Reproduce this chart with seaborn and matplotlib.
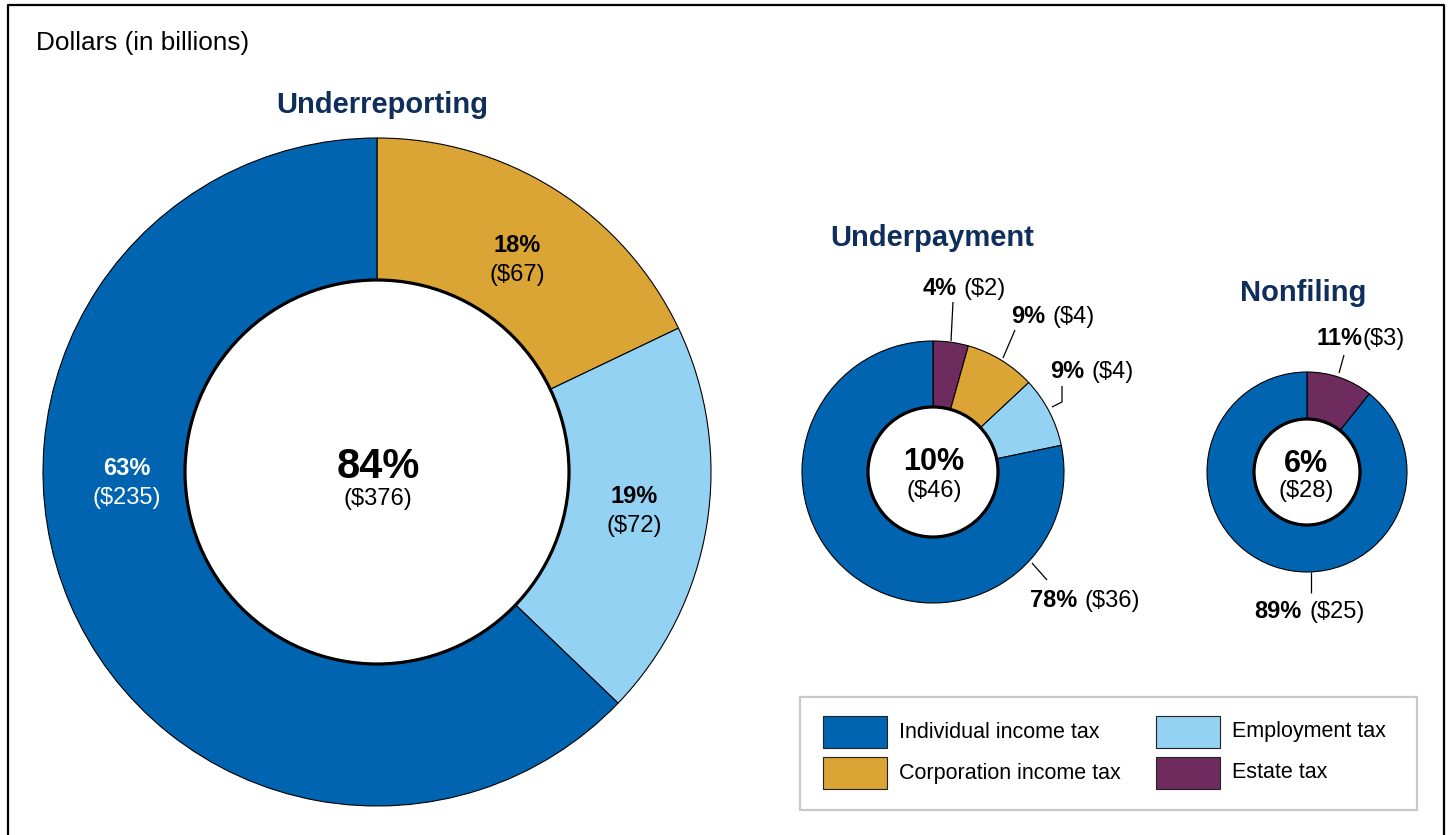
import matplotlib
matplotlib.use("Agg")
import matplotlib.pyplot as plt
from matplotlib.patches import Circle, Rectangle
import seaborn as sns

sns.set_theme(style="white")
plt.rcParams["font.family"] = ["Liberation Sans", "DejaVu Sans"]

# ---------------- data ----------------
tax_types = ["Individual income tax", "Corporation income tax", "Employment tax", "Estate tax"]
tax_colors = dict(zip(tax_types, sns.color_palette(["#0064b1", "#daa535", "#94d2f3", "#6e2c5e"])))

gap_names = ["Underreporting", "Underpayment", "Nonfiling"]
gap_share = [84, 10, 6]        # % of gross tax gap
gap_total = [376, 46, 28]      # dollars in billions

rep_types = ["Corporation income tax", "Employment tax", "Individual income tax"]
rep_dollars = [67, 72, 235]
rep_share = [18, 19, 63]

pay_types = ["Estate tax", "Corporation income tax", "Employment tax", "Individual income tax"]
pay_dollars = [2, 4, 4, 36]
pay_share = [4, 9, 9, 78]

nf_types = ["Estate tax", "Individual income tax"]
nf_dollars = [3, 25]
nf_share = [11, 89]

# ---------------- layout (pixel coords, y measured from top) ----------------
W, H = 1450, 835
NAVY = "#102e5c"


def Y(y):
    return H - y


donuts = [
    dict(types=rep_types, vals=rep_dollars, pct=rep_share, c=(377, 472), ro=334, ri=192,
         title=(382, 113), ctr=(378, 478, 505), csize=30),
    dict(types=pay_types, vals=pay_dollars, pct=pay_share, c=(933, 472), ro=131, ri=65,
         title=(932, 246), ctr=(934, 470, 497), csize=22),
    dict(types=nf_types, vals=nf_dollars, pct=nf_share, c=(1307, 472), ro=100, ri=53,
         title=(1303, 301), ctr=(1306, 472, 497), csize=22),
]

# two-line labels inside the big ring: x, pct baseline, amount baseline, colour
rep_label_pos = [(517, 252, 281, "black"), (634, 503, 532, "black"), (127, 475, 504, "white")]

# inline labels for the small rings: pct right edge, amount left edge, baseline, leader line
pay_label_pos = [
    (957, 964, 295, [(953, 302), (951, 341)]),
    (1045, 1053, 323, [(1015, 330), (1003, 358)]),
    (1084, 1092, 378, [(1062, 386), (1062, 402), (1052, 407)]),
    (1077, 1085, 607, [(1032, 563), (1047, 580)]),
]
nf_label_pos = [
    (1363, 1363, 345, [(1344, 355), (1339, 373)]),
    (1302, 1310, 618, [(1311, 572), (1311, 593)]),
]

fig = plt.figure(figsize=(W / 100, H / 100), dpi=100)
ax = fig.add_axes([0, 0, 1, 1])

for i, d in enumerate(donuts):
    cx, cy = d["c"]
    ax.pie(d["vals"], colors=[tax_colors[t] for t in d["types"]], startangle=90,
           counterclock=False, radius=d["ro"], center=(cx, Y(cy)),
           wedgeprops=dict(width=d["ro"] - d["ri"], edgecolor="black", linewidth=0.8))
    ax.add_patch(Circle((cx, Y(cy)), d["ri"], fill=False, edgecolor="black", linewidth=2.3, zorder=5))

    tx, tb = d["title"]
    ax.text(tx, Y(tb), gap_names[i], ha="center", va="baseline", fontsize=21,
            fontweight="bold", color=NAVY)

    x0, b1, b2 = d["ctr"]
    ax.text(x0, Y(b1), f"{gap_share[i]}%", ha="center", va="baseline",
            fontsize=d["csize"], fontweight="bold", color="black")
    ax.text(x0, Y(b2), f"(${gap_total[i]})", ha="center", va="baseline",
            fontsize=17, color="black")

# big ring labels
for (x, b1, b2, col), p, v in zip(rep_label_pos, rep_share, rep_dollars):
    ax.text(x, Y(b1), f"{p}%", ha="center", va="baseline", fontsize=17,
            fontweight="bold", color=col)
    ax.text(x, Y(b2), f"(${v})", ha="center", va="baseline", fontsize=17, color=col)

# small ring labels with leader lines
for pos, shares, vals in [(pay_label_pos, pay_share, pay_dollars), (nf_label_pos, nf_share, nf_dollars)]:
    for (xr, xl, b, leader), p, v in zip(pos, shares, vals):
        ax.text(xr, Y(b), f"{p}%", ha="right", va="baseline", fontsize=17,
                fontweight="bold", color="black")
        ax.text(xl, Y(b), f"(${v})", ha="left", va="baseline", fontsize=17, color="black")
        ax.plot([pt[0] for pt in leader], [Y(pt[1]) for pt in leader],
                color="black", linewidth=0.9, solid_capstyle="butt")

# units note
ax.text(36, Y(50), "Dollars (in billions)", ha="left", va="baseline", fontsize=18.8, color="black")

# legend
ax.add_patch(Rectangle((800, Y(810)), 617, 113, fill=False, edgecolor="#c8c8c8", linewidth=1.6))
legend_order = [("Individual income tax", 0, 0), ("Employment tax", 1, 0),
                ("Corporation income tax", 0, 1), ("Estate tax", 1, 1)]
col_x = [823, 1156]
row_top = [716, 757]
for name, c, r in legend_order:
    ax.add_patch(Rectangle((col_x[c], Y(row_top[r] + 32)), 64, 32, facecolor=tax_colors[name],
                           edgecolor="#222222", linewidth=0.8))
    ax.text(col_x[c] + 76, Y(row_top[r] + 16), name, ha="left", va="center",
            fontsize=15.5, color="black")

# outer frame (open at the bottom)
ax.plot([8, 8, 1444, 1444], [Y(H + 10), Y(5), Y(5), Y(H + 10)], color="black", linewidth=1.6)

ax.set_xlim(0, W)
ax.set_ylim(0, H)
ax.set_aspect("auto")
ax.axis("off")

fig.savefig("out.png", dpi=100, facecolor="white")
plt.close(fig)
